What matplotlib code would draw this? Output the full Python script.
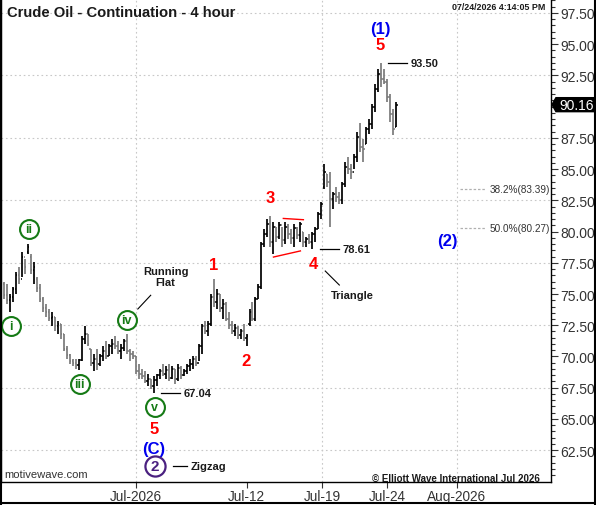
#Crude Oil 4-hour chart with Elliott wave labels
import matplotlib
matplotlib.use('Agg')
import matplotlib.pyplot as plt
from matplotlib.patches import Polygon
import numpy as np

plt.rcParams['font.family'] = ['Liberation Sans', 'DejaVu Sans']

#OHLC bars (4-hour)
bar_high = [76.0, 75.8, 75.0, 75.6, 76.8, 77.2, 78.4, 77.8, 79.0, 78.2,
            77.6, 76.4, 75.8, 74.8, 74.2, 73.8, 73.6, 73.2, 72.8, 72.6,
            71.8, 70.8, 70.2, 69.8, 69.8, 69.8, 71.6, 72.4, 71.8, 70.6,
            70.2, 70.6, 70.2, 70.8, 71.2, 71.0, 71.4, 71.6, 71.2, 71.0,
            71.4, 71.8, 70.6, 70.4, 70.0, 69.4, 69.0, 68.8, 68.6, 68.2,
            68.4, 68.6, 69.0, 69.4, 69.2, 69.4, 69.2, 69.0, 69.4, 69.2,
            69.0, 69.4, 69.8, 70.0, 70.0, 71.0, 72.6, 72.8, 72.8, 75.0,
            76.2, 75.4, 75.0, 74.6, 74.4, 73.6, 72.8, 72.6, 72.4, 72.2,
            72.6, 71.8, 73.8, 74.4, 74.8, 75.8, 79.2, 80.2, 81.0, 81.25,
            80.8, 80.4, 80.8, 80.4, 80.8, 80.6, 80.2, 80.6, 80.4, 80.8,
            80.0, 79.6, 79.8, 80.0, 80.4, 81.6, 82.4, 85.4, 84.6, 84.8,
            83.2, 83.6, 83.2, 84.0, 85.6, 86.0, 85.4, 86.2, 88.0, 88.7,
            87.4, 88.4, 89.0, 90.2, 91.8, 93.0, 93.5, 93.0, 92.2, 91.0,
            89.8, 90.4]
bar_low = [74.6, 74.2, 73.6, 74.4, 75.0, 75.8, 76.4, 76.6, 78.2, 76.6,
           75.8, 75.2, 74.4, 73.6, 73.2, 72.8, 72.4, 72.0, 71.8, 71.4,
           70.4, 69.8, 69.4, 69.2, 69.0, 68.9, 69.6, 71.0, 70.8, 69.2,
           68.8, 68.9, 69.2, 69.6, 69.8, 70.0, 70.2, 70.6, 70.2, 69.8,
           70.4, 70.2, 69.6, 69.8, 68.6, 68.2, 68.2, 67.9, 67.6, 67.4,
           67.04, 67.6, 68.2, 68.4, 68.2, 68.0, 68.2, 67.8, 68.0, 68.2,
           68.4, 68.6, 68.8, 69.0, 69.2, 69.6, 70.2, 71.8, 71.6, 72.4,
           74.0, 73.8, 73.6, 73.0, 72.8, 72.2, 71.8, 71.6, 71.4, 71.4,
           71.2, 70.8, 72.4, 72.8, 72.8, 74.6, 75.4, 78.8, 79.6, 78.8,
           78.2, 79.2, 79.4, 78.8, 79.0, 79.4, 79.0, 78.8, 79.4, 79.2,
           78.8, 78.8, 79.0, 78.61, 79.2, 80.2, 81.0, 83.4, 83.6, 80.4,
           81.8, 82.4, 82.2, 82.2, 83.6, 84.6, 84.2, 85.0, 85.6, 86.4,
           85.6, 87.0, 87.8, 88.2, 89.6, 91.2, 91.6, 91.8, 90.4, 88.8,
           87.7, 88.4]
bar_open = [75.8, 74.9, 74.5, 74.8, 75.4, 76.5, 76.2, 78.0, 78.4, 78.0,
            76.9, 76.2, 75.5, 74.6, 73.9, 73.6, 73.1, 73.2, 72.4, 72.6,
            71.8, 70.6, 70.1, 69.6, 69.5, 69.3, 69.7, 71.4, 71.8, 70.6,
            69.5, 69.8, 69.4, 70.0, 70.4, 70.0, 70.8, 71.0, 70.8, 70.4,
            70.7, 71.2, 70.4, 70.2, 70.0, 68.8, 68.6, 68.4, 68.0, 68.2,
            67.6, 68.1, 68.5, 68.8, 68.6, 68.9, 68.3, 69.0, 68.2, 69.1,
            68.5, 68.8, 69.2, 69.4, 69.8, 69.5, 70.8, 72.4, 72.0, 72.6,
            74.8, 74.4, 75.0, 73.9, 74.2, 73.0, 72.5, 72.0, 72.3, 71.7,
            72.0, 71.5, 72.6, 73.6, 73.0, 74.6, 75.6, 79.0, 79.8, 80.6,
            79.2, 80.4, 79.6, 80.5, 79.3, 80.4, 79.8, 79.5, 80.3, 79.7,
            80.0, 79.2, 79.4, 79.2, 79.8, 80.2, 81.4, 83.6, 84.6, 84.0,
            82.6, 83.0, 82.8, 82.5, 83.8, 85.2, 85.0, 84.8, 86.0, 87.6,
            86.8, 87.0, 88.2, 88.6, 90.0, 91.4, 92.6, 92.2, 92.0, 90.8,
            89.4, 88.4]
bar_close = [74.9, 74.5, 74.8, 75.4, 76.5, 76.2, 78.0, 77.2, 78.8, 76.9,
             77.2, 75.5, 74.6, 73.9, 73.6, 73.1, 73.2, 72.4, 72.6, 71.8,
             70.6, 70.1, 69.6, 69.5, 69.3, 69.7, 71.4, 71.8, 71.0, 69.5,
             69.8, 69.4, 70.0, 70.4, 70.0, 70.8, 71.0, 70.8, 70.4, 70.7,
             71.2, 70.4, 70.2, 70.0, 68.8, 68.6, 68.4, 68.0, 68.2, 67.6,
             68.1, 68.5, 68.8, 68.6, 68.9, 68.3, 69.0, 68.2, 69.1, 68.5,
             68.8, 69.2, 69.4, 69.8, 69.5, 70.8, 72.4, 72.0, 72.6, 74.8,
             74.4, 75.0, 73.9, 74.2, 73.0, 72.5, 72.0, 72.3, 71.7, 72.0,
             71.5, 71.6, 73.6, 73.0, 74.6, 75.6, 79.0, 79.8, 80.6, 79.2,
             80.4, 79.6, 80.5, 79.3, 80.4, 79.8, 79.5, 80.3, 79.7, 80.6,
             79.2, 79.4, 79.2, 79.8, 80.2, 81.4, 82.2, 84.8, 84.0, 82.6,
             83.0, 82.8, 82.5, 83.8, 85.2, 85.0, 84.8, 86.0, 87.6, 86.8,
             86.6, 88.2, 88.6, 90.0, 91.4, 92.6, 92.2, 92.0, 90.8, 89.4,
             88.2, 90.16]

#axis labels
date_ticks = [44, 81, 106.3, 128, 151.3]
date_labels = ['Jul-2026', 'Jul-12', 'Jul-19', 'Jul-24', 'Aug-2026']
grid_x = [44, 106.3, 151.3]

#Fibonacci retracements
fib_labels = ['38.2%', '50.0%']
fib_values = [83.39, 80.27]

last_price = 90.16

fig = plt.figure(figsize=(5.96, 5.06), dpi=100)
ax = fig.add_axes([1/596, 23/506, 550/596, 483/506])
ax.set_xlim(-1, 182.7)
ax.set_ylim(59.95, 98.62)

#grid
for v in np.arange(62.5, 98, 5):
    ax.axhline(v, color='#c8c8c8', lw=0.8, ls=(0, (1.5, 2.5)), zorder=0)
for g in grid_x:
    ax.axvline(g, color='#c8c8c8', lw=0.8, ls=(0, (1.5, 2.5)), zorder=0)

#OHLC bars
n = len(bar_high)
xs = np.arange(n)
for i in range(n):
    col = 'black' if bar_close[i] >= bar_open[i] else '#7a7a7a'
    ax.vlines(xs[i], bar_low[i], bar_high[i], color=col, lw=1.25, zorder=3)
    ax.hlines(bar_open[i], xs[i] - 0.45, xs[i], color=col, lw=1.1, zorder=3)
    ax.hlines(bar_close[i], xs[i], xs[i] + 0.45, color=col, lw=1.1, zorder=3)

#triangle of wave 4
ax.plot([93.3, 100], [81.05, 80.95], color='red', lw=1.0, zorder=4)
ax.plot([90, 99], [77.96, 78.45], color='red', lw=1.0, zorder=4)

#axes styling
ax.yaxis.tick_right()
yt = np.arange(62.5, 98, 2.5)
ax.set_yticks(yt)
ax.set_yticklabels(['' if abs(v - 90) < 0.01 else f'{v:.2f}' for v in yt])
ax.set_yticks(np.arange(60.5, 98.6, 0.5), minor=True)
ax.tick_params(axis='y', which='major', direction='out', length=5, width=0.8,
               labelsize=10, labelcolor='#333333', pad=2, color='#333333')
ax.tick_params(axis='y', which='minor', direction='out', length=3, width=0.8, color='#333333')
ax.set_xticks(date_ticks)
ax.set_xticklabels(date_labels)
ax.tick_params(axis='x', direction='out', length=4, width=0.8, labelsize=9.8,
               labelcolor='#333333', pad=1, color='#333333')
ax.spines['top'].set_visible(False)
for s in ['left', 'right', 'bottom']:
    ax.spines[s].set_linewidth(1.0)

#titles
ax.text(6/550, 1 - 13/483, 'Crude Oil - Continuation - 4 hour', transform=ax.transAxes,
        fontsize=10.6, fontweight='bold', color='#1a1a1a', va='center', ha='left')
ax.text(544/550, 1 - 8/483, '07/24/2026 4:14:05 PM', transform=ax.transAxes,
        fontsize=6.4, fontweight='bold', color='#1a1a1a', va='center', ha='right')
ax.text(3/550, 1 - 475/483, 'motivewave.com', transform=ax.transAxes,
        fontsize=8.1, color='#333333', va='center', ha='left')
ax.text(539/550, 1 - 479/483, '\u00a9 Elliott Wave International Jul 2026', transform=ax.transAxes,
        fontsize=7.05, fontweight='bold', color='#1a1a1a', va='center', ha='right')

#wave labels
red = '#ff0000'
blue = '#0000ee'
green = '#157a15'
purple = '#4a2080'
for (x, y, t) in [(125.7, 94.94, '5'), (89, 82.69, '3'), (103.3, 77.48, '4'),
                  (70, 77.4, '1'), (80.7, 69.64, '2'), (50, 64.27, '5')]:
    ax.text(x, y, t, color=red, fontsize=12, fontweight='bold', ha='center', va='center', zorder=6)
for (x, y, t) in [(125.7, 96.22, '(1)'), (50, 62.67, '(C)'), (148, 79.25, '(2)')]:
    ax.text(x, y, t, color=blue, fontsize=12, fontweight='bold', ha='center', va='center', zorder=6)

for (x, y, t) in [(2.3, 72.44, 'i'), (8.3, 80.2, 'ii'), (25.3, 67.8, 'iii'),
                  (41, 72.92, 'iv'), (50.3, 65.95, 'v')]:
    ax.scatter([x], [y], s=185, facecolor='white', edgecolor=green, lw=1.5, zorder=6)
    ax.text(x, y, t, color=green, fontsize=9, fontweight='bold', ha='center', va='center', zorder=7)
ax.scatter([50.3], [61.23], s=210, facecolor='white', edgecolor=purple, lw=1.6, zorder=6)
ax.text(50.3, 61.23, '2', color=purple, fontsize=11, fontweight='bold', ha='center', va='center', zorder=7)

#price notes
notes = [(128.3, 134.7, 93.5, '93.50'), (105.7, 112, 78.61, '78.61'), (52.3, 58.7, 67.04, '67.04'),
         (56.3, 61, 61.23, 'Zigzag')]
for (x0, x1, y, t) in notes:
    ax.plot([x0, x1], [y, y], color='black', lw=0.9, zorder=5)
    ax.text(x1 + 1.2, y, t, fontsize=8, fontweight='bold', color='#1a1a1a', ha='left', va='center')

ax.plot([107.3, 112], [76.84, 75.72], color='black', lw=0.8)
ax.text(116.3, 74.92, 'Triangle', fontsize=8, fontweight='bold', color='#1a1a1a', ha='center', va='center')
ax.plot([44.7, 49], [73.8, 74.9], color='black', lw=0.8)
ax.text(54, 76.4, 'Running\nFlat', fontsize=8, fontweight='bold', color='#1a1a1a', ha='center', va='center',
        linespacing=1.15)

#Fibonacci levels
for lab, val in zip(fib_labels, fib_values):
    ax.plot([152.3, 160.7], [val, val], color='#b0b0b0', lw=0.9, ls=(0, (2, 1.5)))
    ax.text(162.3, val, f'{lab}({val:.2f})', fontsize=7.2, color='#333333', ha='left', va='center')

#last price marker
ytr = ax.get_yaxis_transform()
h = 0.56
poly = Polygon([(1.0018, last_price), (1.009, last_price + h), (1.082, last_price + h),
                (1.082, last_price - h), (1.009, last_price - h)], closed=True,
               transform=ytr, facecolor='black', edgecolor='black', clip_on=False, zorder=10)
ax.add_patch(poly)
ax.text(1.046, last_price, f'{last_price:.2f}', transform=ytr, color='white', fontsize=10,
        ha='center', va='center', clip_on=False, zorder=11)

#figure border
fig.add_artist(plt.Line2D([0.5/596, 0.5/596], [0, 1], color='black', lw=1.5, transform=fig.transFigure))
fig.add_artist(plt.Line2D([595/596, 595/596], [0, 1], color='black', lw=1.5, transform=fig.transFigure))
fig.add_artist(plt.Line2D([0, 1], [2.5/506, 2.5/506], color='black', lw=1.5, transform=fig.transFigure))

plt.savefig('out.png', dpi=100)
